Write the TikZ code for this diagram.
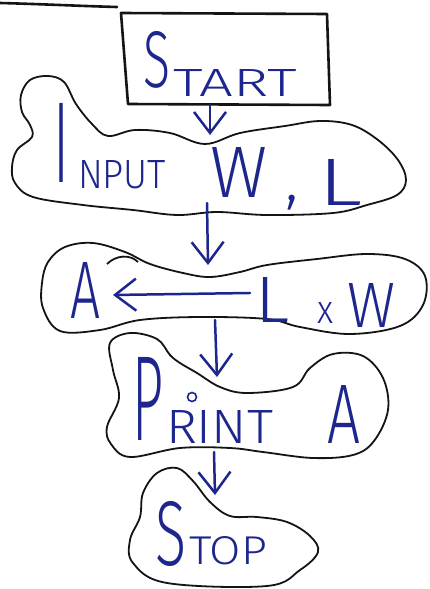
\documentclass[tikz,border=0pt]{standalone}
\usepackage{fontspec}
\setmainfont{Fira Sans Light}
\usepackage{graphicx}
\usetikzlibrary{arrows.meta}
\definecolor{ink}{RGB}{28,38,140}
\definecolor{pen}{RGB}{20,20,20}
\newcommand{\hw}[3]{\resizebox{#1pt}{#2pt}{#3}}
\begin{document}
\begin{tikzpicture}[x=1pt,y=-1pt,
  outline/.style={draw=pen, line width=1.8pt, line join=round},
  boxline/.style={draw=pen, line width=2.6pt, line join=round, line cap=round},
  arr/.style={draw=ink, line width=2.5pt, line cap=round, -{Straight Barb[length=21pt,width=32pt]}},
  txt/.style={anchor=south west, inner sep=0pt, outer sep=0pt, text=ink}]
\useasboundingbox[fill=white] (0,0) rectangle (429,589);

% stray line at top left
\draw[boxline] (0,3) .. controls (40,4) and (80,6) .. (117,7);

% START box
\draw[boxline] (121,13) -- (327,14) -- (330,105) -- (128,104) -- cycle;
\node[txt] (tS) at (143,88) {\hw{27}{56}{S}};
\node[txt] (tTART) at (173,96) {\hw{124}{27}{TART}};
\coordinate (startbot) at (210,105);

% cloud 1: INPUT W, L
\draw[outline] plot[smooth cycle, tension=0.6] coordinates {
  (21,95) (30,80) (48,76) (64,82) (76,104) (92,124) (108,136) (135,130)
  (170,133) (205,144) (240,133) (285,126) (320,121) (352,125) (378,140)
  (398,160) (406,180) (397,195) (367,205) (333,213) (267,215) (217,212)
  (177,215) (133,210) (83,205) (33,197) (15,183) (12,167) (17,150)
  (32,137) (30,125) (22,112)};
\node[txt] (iI) at (53,182) {\hw{16}{79}{I}};
\node[txt] (iNPUT) at (78,189) {\hw{88}{28}{NPUT}};
\node[txt] (iW) at (210,197) {\hw{57}{50}{W}};
\node[txt, anchor=base west] (icomma) at (285,200) {\fontsize{64}{64}\selectfont ,};
\node[txt] (iL) at (318,205) {\hw{44}{46}{L}};
\coordinate (c1top) at (210,135);
\coordinate (c1bot) at (207,203);

% cloud 2: A <- L x W
\draw[outline] plot[smooth cycle, tension=0.6] coordinates {
  (48,262) (65,247) (93,243) (125,252) (150,264) (183,273) (210,277)
  (240,272) (267,265) (317,259) (367,254) (405,259) (425,276) (423,305)
  (400,326) (350,334) (300,327) (267,319) (200,317) (140,320) (100,330)
  (60,331) (43,308) (42,283)};
\draw[outline] (107,264) .. controls (116,255) and (130,254) .. (138,262);
\node[txt] (aA) at (70,318) {\hw{30}{56}{A}};
\node[txt] (aL) at (255,322) {\hw{34}{45}{L}};
\node[txt] (ax) at (317,323) {\hw{16}{21}{x}};
\node[txt] (aW) at (347,327) {\hw{48}{44}{W}};
\draw[arr] ([xshift=-5pt,yshift=6.5pt]aL.west) -- ([xshift=13pt,yshift=-5pt]aA.east);
\coordinate (c2top) at (208,265);
\coordinate (c2bot) at (215,320);

% cloud 3: PRINT A
\draw[outline] plot[smooth cycle, tension=0.6] coordinates {
  (110,343) (130,333) (157,339) (170,355) (180,363) (197,373) (220,387)
  (247,393) (293,387) (310,368) (333,354) (363,356) (383,378) (388,410)
  (374,441) (353,455) (313,458) (263,452) (230,448) (180,448) (130,457)
  (111,444) (107,427) (119,398) (113,370)};
\node[txt] (pP) at (132,440) {\hw{31}{83}{P}};
\node[txt] (pRINT) at (166,443) {\hw{107}{33}{RINT}};
\draw[ink, line width=1.6pt] (192,397) circle[radius=4.5];
\node[txt] (pA) at (327,443) {\hw{33}{58}{A}};
\coordinate (c3top) at (217,377);
\coordinate (c3bot) at (214,452);

% cloud 4: STOP
\draw[outline] plot[smooth cycle, tension=0.6] coordinates {
  (143,493) (157,473) (177,468) (193,481) (210,502) (230,516) (257,517)
  (287,522) (310,536) (318,552) (300,570) (267,586) (167,583) (133,563)
  (130,540) (140,517)};
\node[txt] (sS) at (155,567) {\hw{31}{64}{S}};
\node[txt] (sTOP) at (189,565) {\hw{78}{28}{TOP}};
\coordinate (c4top) at (215,495);

% connectors
\draw[arr] (startbot) -- (c1top);
\draw[arr] (c1bot) -- (c2top);
\draw[arr] (c2bot) -- (c3top);
\draw[arr] (c3bot) -- (c4top);
\end{tikzpicture}
\end{document}
